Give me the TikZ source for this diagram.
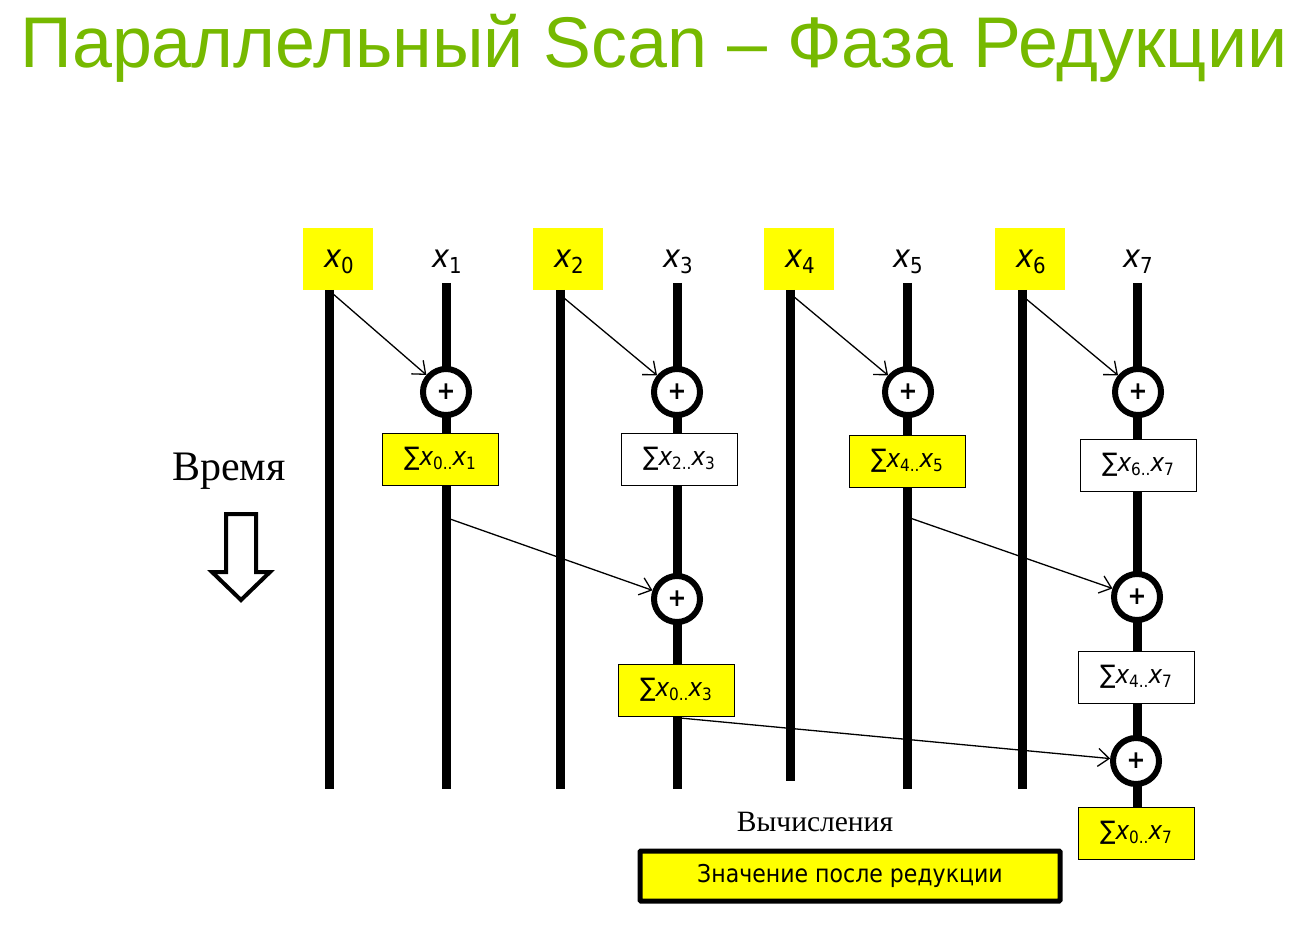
\documentclass[tikz,border=0pt]{standalone}
\usepackage{fontspec}
\setmainfont{Liberation Serif}
\newfontfamily\titlefont{Liberation Sans}
\newfontfamily\lblfont[FakeStretch=0.9]{DejaVu Sans}
\usetikzlibrary{arrows.meta}

\definecolor{nvgreen}{RGB}{118,185,0}
\definecolor{hilite}{RGB}{255,255,0}

% variable label x_i and partial-sum label
\newcommand\varlbl[1]{{\lblfont\fontsize{32}{32}\selectfont\itshape x}\raisebox{-6pt}{\lblfont\fontsize{22}{22}\selectfont #1}}
\newcommand\sumlbl[2]{{\lblfont\fontsize{25.5}{25.5}\selectfont ∑\itshape x}\raisebox{-4pt}{\lblfont\fontsize{17}{17}\selectfont #1..}{\lblfont\fontsize{25.5}{25.5}\selectfont\itshape x}\raisebox{-4pt}{\lblfont\fontsize{17}{17}\selectfont #2}}

\tikzset{
  rail/.style={line width=9pt},
  inbox/.style={fill=hilite, minimum width=70pt, minimum height=62pt, inner sep=0pt},
  invar/.style={inner sep=0pt},
  addop/.style={circle, draw, line width=6pt, fill=white, minimum size=46pt, inner sep=0pt,
                font=\lblfont\bfseries\fontsize{25}{25}\selectfont},
  psum/.style={draw, line width=1pt, minimum width=116pt, minimum height=52pt, inner sep=0pt},
  psumhi/.style={psum, fill=hilite},
  psumlo/.style={psum, fill=white},
  flow/.style={line width=1.3pt, -{Straight Barb[length=11pt, width=18pt, line width=1.3pt]}},
}

\begin{document}
\begin{tikzpicture}[x=1pt, y=-1pt]
\useasboundingbox (0,0) rectangle (1313,949);

% title
\node[anchor=base, text=nvgreen, font=\titlefont\fontsize{71.8}{71.8}\selectfont, inner sep=0pt]
  (title) at (654,68) {Параллельный Scan – Фаза Редукции};

% inputs
\node[inbox] (t0) at (338,259) {};
\node[invar] (l0) at (339,262) {\varlbl{0}};
\node[invar] (t1) at (447,262) {\varlbl{1}};
\node[inbox] (t2) at (568,259) {};
\node[invar] (l2) at (569,262) {\varlbl{2}};
\node[invar] (t3) at (678,262) {\varlbl{3}};
\node[inbox] (t4) at (799,259) {};
\node[invar] (l4) at (800,262) {\varlbl{4}};
\node[invar] (t5) at (908,262) {\varlbl{5}};
\node[inbox] (t6) at (1030,259) {};
\node[invar] (l6) at (1031,262) {\varlbl{6}};
\node[invar] (t7) at (1138,262) {\varlbl{7}};

% rail ends
\coordinate (a0) at (329,290); \coordinate (b0) at (329,789);
\coordinate (a1) at (446,283); \coordinate (b1) at (446,789);
\coordinate (a2) at (560,290); \coordinate (b2) at (560,789);
\coordinate (a3) at (677,283); \coordinate (b3) at (677,789);
\coordinate (a4) at (790,290); \coordinate (b4) at (790,781);
\coordinate (a5) at (907,283); \coordinate (b5) at (907,789);
\coordinate (a6) at (1022,290); \coordinate (b6) at (1022,789);
\coordinate (a7) at (1137,283); \coordinate (b7) at (1137,810);

\foreach \i in {0,...,7} \draw[rail] (a\i) -- (b\i);

% adders and partial sums
\node[addop] (p1) at (446,392) {+};
\node[addop] (p3) at (677,392) {+};
\node[addop] (p5) at (908,392) {+};
\node[addop] (p7) at (1138,392) {+};
\node[psumhi] (s01) at (440,459) {\sumlbl{0}{1}};
\node[psumlo] (s23) at (679,459) {\sumlbl{2}{3}};
\node[psumhi] (s45) at (907,461) {\sumlbl{4}{5}};
\node[psumlo] (s67) at (1138,465) {\sumlbl{6}{7}};

\node[addop] (q3) at (677,599) {+};
\node[addop] (q7) at (1137,597) {+};
\node[psumhi] (s03) at (676,690) {\sumlbl{0}{3}};
\node[psumlo] (s47) at (1136,677) {\sumlbl{4}{7}};

\node[addop] (r7) at (1136,761) {+};
\node[psumhi] (s07) at (1136,833) {\sumlbl{0}{7}};

% data flow
\coordinate (f0) at (332,293);
\coordinate (f2) at (564,298);
\coordinate (f4) at (793,296);
\coordinate (f6) at (1025,298);
\coordinate (g1) at (450,519);
\coordinate (g5) at (910,518);
\coordinate (h3) at (680,718);
\draw[flow] (f0) -- (p1);
\draw[flow] (f2) -- (p3);
\draw[flow] (f4) -- (p5);
\draw[flow] (f6) -- (p7);
\draw[flow] (g1) -- (q3);
\draw[flow] (g5) -- (q7);
\draw[flow] (h3) -- (r7);

% time axis
\node[font=\fontsize{42}{42}\selectfont, inner sep=0pt] (time) at (229,471) {Время};
\draw[line width=4pt, line join=miter, fill=white]
  (226,514) -- (256,514) -- (256,572) -- (270,572) -- (241,600) -- (212,572) -- (226,572) -- cycle;

% legend
\node[font=\fontsize{29.5}{29.5}\selectfont, inner sep=0pt] (calc) at (815,822) {Вычисления};
\node[draw, line width=5pt, fill=hilite, minimum width=420pt, minimum height=50pt, inner sep=0pt,
      rounded corners=1pt, font=\lblfont\fontsize{24.5}{24.5}\selectfont] (legend) at (850,876)
  {Значение после редукции};
\end{tikzpicture}
\end{document}
